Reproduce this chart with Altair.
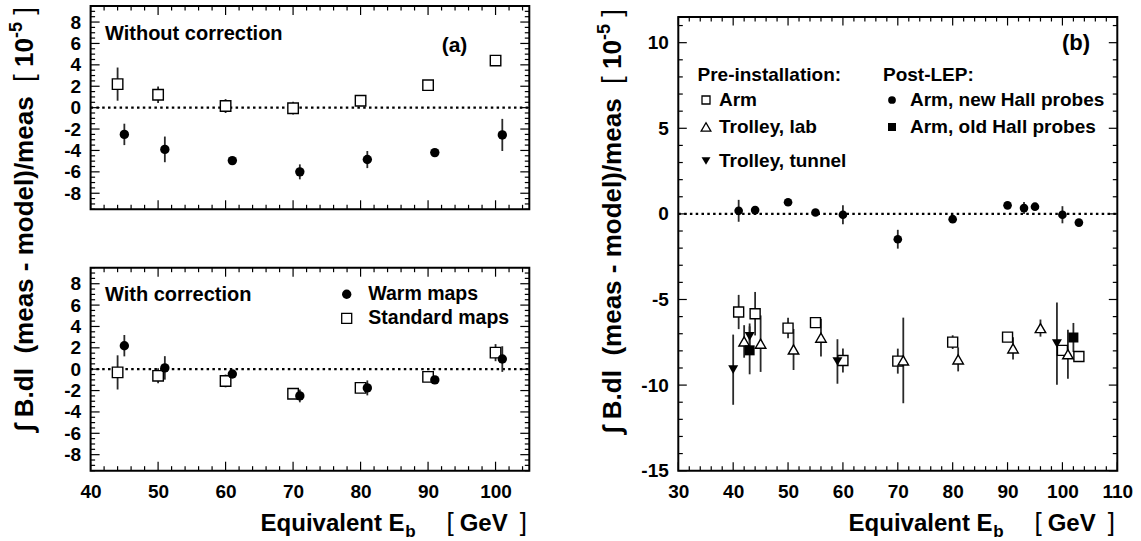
import altair as alt
import pandas as pd
import numpy as np

FONT = "Liberation Sans"
W, H = 1141, 541

# ---------------- data ----------------
# panel (a), top: without correction
a1_std_E = [44, 50, 60, 70, 80, 90, 100]
a1_std_v = [2.2, 1.2, 0.15, -0.05, 0.65, 2.1, 4.4]
a1_std_err = [1.55, 0.77, 0.65, 0.6, 0.3, 0.3, 0.3]
a1_warm_E = [45, 51, 61, 71, 81, 91, 101]
a1_warm_v = [-2.5, -3.9, -4.95, -6.0, -4.85, -4.2, -2.55]
a1_warm_err = [1.0, 1.2, 0.3, 0.7, 0.8, 0.3, 1.5]
# panel (a), bottom: with correction
a2_std_E = [44, 50, 60, 70, 80, 90, 100]
a2_std_v = [-0.3, -0.62, -1.1, -2.3, -1.75, -0.72, 1.55]
a2_std_err = [1.6, 0.7, 0.6, 0.5, 0.3, 0.3, 0.8]
a2_warm_E = [45, 51, 61, 71, 81, 91, 101]
a2_warm_v = [2.2, 0.12, -0.45, -2.5, -1.75, -1.0, 0.95]
a2_warm_err = [1.0, 1.1, 0.3, 0.6, 0.7, 0.3, 1.2]
# panel (b)
b_arm_E = [41, 44, 50, 55, 60, 70, 80, 90, 100, 103]
b_arm_v = [-5.73, -5.83, -6.67, -6.35, -8.56, -8.6, -7.49, -7.2, -7.97, -8.33]
b_arm_err = [1.0, 1.27, 0.6, 0.25, 0.7, 0.73, 0.4, 0.2, 0.3, 0.2]
b_lab_E = [42, 45, 51, 56, 71, 81, 91, 96, 101]
b_lab_v = [-7.45, -7.58, -7.92, -7.23, -8.56, -8.5, -7.86, -6.67, -8.2]
b_lab_err = [0.95, 1.65, 1.2, 1.1, 2.5, 0.7, 0.65, 0.5, 1.43]
b_tun_E = [40, 43, 59, 99]
b_tun_v = [-9.1, -7.15, -8.62, -7.58]
b_tun_err = [2.05, 0.75, 1.3, 2.4]
b_new_E = [41, 44, 50, 55, 60, 70, 80, 90, 93, 95, 100, 103]
b_new_v = [0.18, 0.22, 0.68, 0.08, -0.05, -1.48, -0.31, 0.5, 0.34, 0.42, -0.05, -0.51]
b_new_err = [0.64, 0.2, 0.2, 0.2, 0.55, 0.55, 0.2, 0.2, 0.35, 0.2, 0.5, 0.2]
b_old_E = [43, 102]
b_old_v = [-7.97, -7.22]
b_old_err = [1.4, 0.85]

# tick label values
a_x_labels = [40, 50, 60, 70, 80, 90, 100]
a_y_labels = [-8, -6, -4, -2, 0, 2, 4, 6, 8]
b_x_labels = [30, 40, 50, 60, 70, 80, 90, 100, 110]
b_y_labels = [-15, -10, -5, 0, 5, 10]

# ---------------- layout (pixels) ----------------
P = {
    "a1": dict(x0=90.6, x1=529.3, y0=6.0, y1=209.3, xd=[40, 105], yd=[-9.5, 9.5]),
    "a2": dict(x0=90.6, x1=529.3, y0=267.7, y1=470.7, xd=[40, 105], yd=[-9.5, 9.5]),
    "b": dict(x0=678.3, x1=1117.3, y0=17.0, y1=470.7, xd=[30, 110], yd=[-15, 11.5]),
}
one = pd.DataFrame({"k": [0]})


def sx(p):
    return alt.Scale(domain=p["xd"], range=[p["x0"], p["x1"]], nice=False, zero=False)


def sy(p):
    return alt.Scale(domain=p["yd"], range=[p["y1"], p["y0"]], nice=False, zero=False)


def sdf(E, v, err):
    v = np.array(v, dtype=float)
    e = np.array(err, dtype=float)
    return pd.DataFrame({"E": E, "v": v, "lo": v - e, "hi": v + e})


def frame(p):
    return alt.Chart(one).mark_rect(filled=False, color="black", strokeWidth=2).encode(
        x=alt.value(p["x0"]), x2=alt.value(p["x1"]), y=alt.value(p["y0"]), y2=alt.value(p["y1"]))


def zero_line(p):
    return alt.Chart(pd.DataFrame({"z": [0.0]})).mark_rule(
        color="black", strokeWidth=2.2, strokeDash=[2.5, 3.3]).encode(
        y=alt.Y("z:Q", scale=sy(p), axis=None), x=alt.value(p["x0"]), x2=alt.value(p["x1"]))


def errbars(df, p):
    return alt.Chart(df).mark_rule(color="#2a2a2a", strokeWidth=1.8).encode(
        x=alt.X("E:Q", scale=sx(p), axis=None),
        y=alt.Y("lo:Q", scale=sy(p), axis=None),
        y2="hi:Q")


def markers(df, p, shape, size, filled):
    if filled:
        m = alt.Chart(df).mark_point(shape=shape, size=size, filled=True, color="black", opacity=1)
    else:
        m = alt.Chart(df).mark_point(shape=shape, size=size, filled=True, fill="white",
                                     stroke="black", strokeWidth=1.4, opacity=1)
    return m.encode(x=alt.X("E:Q", scale=sx(p), axis=None), y=alt.Y("v:Q", scale=sy(p), axis=None))


def ticks(p, xmaj, xmin, ymaj, ymin, L=9, l=4.5):
    out = []
    for vals, ln in ((xmaj, L), (xmin, l)):
        df = pd.DataFrame({"t": vals})
        base = alt.Chart(df).mark_rule(color="black", strokeWidth=1.2)
        xe = alt.X("t:Q", scale=sx(p), axis=None)
        out.append(base.encode(x=xe, y=alt.value(p["y1"]), y2=alt.value(p["y1"] - ln)))
        out.append(base.encode(x=xe, y=alt.value(p["y0"]), y2=alt.value(p["y0"] + ln)))
    for vals, ln in ((ymaj, L), (ymin, l)):
        df = pd.DataFrame({"t": vals})
        base = alt.Chart(df).mark_rule(color="black", strokeWidth=1.2)
        ye = alt.Y("t:Q", scale=sy(p), axis=None)
        out.append(base.encode(y=ye, x=alt.value(p["x0"]), x2=alt.value(p["x0"] + ln)))
        out.append(base.encode(y=ye, x=alt.value(p["x1"]), x2=alt.value(p["x1"] - ln)))
    return out


LBL = dict(ticks=False, tickSize=0, domain=False, grid=False, labelFont=FONT, labelFontSize=19,
           labelFontWeight="bold", labelColor="black", labelFlush=False, labelOverlap=False,
           title=None, labelExpr="replace(datum.label, '\u2212', '-')")


def yaxis(p, vals):
    df = pd.DataFrame({"t": vals})
    return alt.Chart(df).mark_point(opacity=0).encode(
        x=alt.value(p["x0"]),
        y=alt.Y("t:Q", scale=sy(p),
                axis=alt.Axis(orient="left", offset=-p["x0"], values=vals, labelPadding=10, **LBL)))


def xaxis(p, vals):
    df = pd.DataFrame({"t": vals})
    return alt.Chart(df).mark_point(opacity=0).encode(
        y=alt.value(p["y1"]),
        x=alt.X("t:Q", scale=sx(p),
                axis=alt.Axis(orient="bottom", offset=p["y1"] - H, values=vals, labelPadding=12, **LBL)))


def text(s, x, y, size=19, align="left", baseline="middle", angle=None, weight="bold"):
    kw = dict(font=FONT, fontWeight=weight, fontSize=size, align=align, baseline=baseline, color="black")
    if angle is not None:
        kw["angle"] = angle
    return alt.Chart(one).mark_text(**kw).encode(x=alt.value(x), y=alt.value(y), text=alt.value(s))


def sym(x, y, shape, size, filled):
    if filled:
        m = alt.Chart(one).mark_point(shape=shape, size=size, filled=True, color="black", opacity=1)
    else:
        m = alt.Chart(one).mark_point(shape=shape, size=size, filled=True, fill="white",
                                      stroke="black", strokeWidth=1.3, opacity=1)
    return m.encode(x=alt.value(x), y=alt.value(y))


def ytitle(xc, ytop, F=26, Fs=18):
    out = []
    y = ytop
    out.append(text("]", xc, y, F + 2, "right", "middle", 270, "normal"))
    y += 0.278 * (F + 2) + 0.278 * F
    out.append(text("-5", xc - 8, y, Fs, "right", "middle", 270))
    y += 0.889 * Fs
    out.append(text("10", xc, y, F, "right", "middle", 270))
    y += 1.112 * F + 0.278 * F
    out.append(text("[", xc, y, F + 2, "right", "middle", 270, "normal"))
    y += 0.278 * (F + 2) + 0.556 * F
    out.append(text("\u222b B.dl\u00a0\u00a0(meas - model)/meas", xc, y, F, "right", "middle", 270))
    return out


def xtitle(p):
    r = p["x1"]
    return [
        text("Equivalent E", r - 124.7, 531, 24, "right", "alphabetic"),
        text("b", r - 124.0, 537, 17, "left", "alphabetic"),
        text("[", r - 82.7, 531, 26, "left", "alphabetic", None, "normal"),
        text("GeV", r - 69.6, 531, 24, "left", "alphabetic"),
        text("]", r - 2.3, 531, 26, "right", "alphabetic", None, "normal"),
    ]


def minor(lo, hi, step, majors):
    vals = np.round(np.arange(lo, hi + step / 2, step), 3)
    return [float(v) for v in vals if not np.any(np.isclose(v, majors))]


layers = []
# ---- panel a1
p = P["a1"]
d_std, d_warm = sdf(a1_std_E, a1_std_v, a1_std_err), sdf(a1_warm_E, a1_warm_v, a1_warm_err)
layers += [frame(p), zero_line(p), errbars(d_std, p), errbars(d_warm, p),
           markers(d_std, p, "square", 110, False), markers(d_warm, p, "circle", 88, True)]
layers += ticks(p, a_x_labels, minor(40, 104, 2, a_x_labels), a_y_labels, minor(-9.5, 9.5, 0.5, a_y_labels))
layers += [yaxis(p, a_y_labels), text("Without correction", 105, 33.5, 20), text("(a)", 441.7, 46, 21)]
# ---- panel a2
p = P["a2"]
d_std, d_warm = sdf(a2_std_E, a2_std_v, a2_std_err), sdf(a2_warm_E, a2_warm_v, a2_warm_err)
layers += [frame(p), zero_line(p), errbars(d_std, p), errbars(d_warm, p),
           markers(d_std, p, "square", 110, False), markers(d_warm, p, "circle", 88, True)]
layers += ticks(p, a_x_labels, minor(40, 104, 2, a_x_labels), a_y_labels, minor(-9.5, 9.5, 0.5, a_y_labels))
layers += [yaxis(p, a_y_labels), xaxis(p, a_x_labels), text("With correction", 105, 295, 20),
           sym(346.7, 294.3, "circle", 88, True), text("Warm maps", 368.3, 294.3, 19.5),
           sym(346.7, 318.3, "square", 100, False), text("Standard maps", 368.3, 318.3, 19.5)]
layers += xtitle(p)
layers += ytitle(25, 7)
# ---- panel b
p = P["b"]
d_arm = sdf(b_arm_E, b_arm_v, b_arm_err)
d_lab = sdf(b_lab_E, b_lab_v, b_lab_err)
d_tun = sdf(b_tun_E, b_tun_v, b_tun_err)
d_new = sdf(b_new_E, b_new_v, b_new_err)
d_old = sdf(b_old_E, b_old_v, b_old_err)
layers += [frame(p), zero_line(p)]
layers += [errbars(d, p) for d in (d_arm, d_lab, d_tun, d_new, d_old)]
layers += [markers(d_arm, p, "square", 100, False), markers(d_lab, p, "triangle-up", 110, False),
           markers(d_tun, p, "triangle-down", 100, True), markers(d_old, p, "square", 100, True),
           markers(d_new, p, "circle", 75, True)]
layers += ticks(p, b_x_labels, minor(30, 110, 2, b_x_labels), b_y_labels, minor(-15, 11, 1, b_y_labels),
                L=8.5, l=4.5)
layers += [yaxis(p, b_y_labels), xaxis(p, b_x_labels), text("(b)", 1062, 43, 22),
           text("Pre-installation:", 697.5, 75), text("Post-LEP:", 883, 75),
           sym(706, 100, "square", 64, False), text("Arm", 719, 100),
           sym(892, 100, "circle", 60, True), text("Arm, new Hall probes", 910, 100),
           sym(706, 127, "triangle-up", 95, False), text("Trolley, lab", 719, 127),
           sym(892, 127, "square", 64, True), text("Arm, old Hall probes", 910, 127),
           sym(706, 161, "triangle-down", 80, True), text("Trolley, tunnel", 719, 161)]
layers += xtitle(p)
layers += ytitle(613, 9)

chart = alt.layer(*layers).properties(
    width=W, height=H, padding=0, autosize=alt.AutoSizeParams(type="none")
).resolve_scale(x="independent", y="independent").configure_view(strokeOpacity=0)

chart.save("out.html", embed_options={"renderer": "svg", "actions": False})
